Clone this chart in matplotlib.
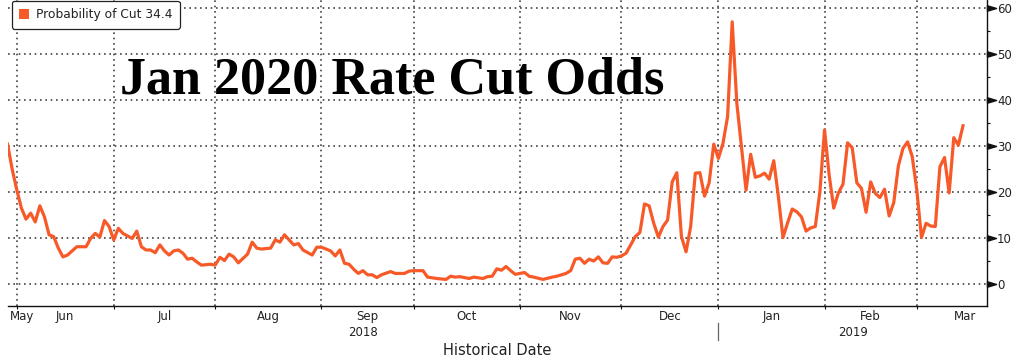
import numpy as np
import matplotlib
matplotlib.use('Agg')
import matplotlib.pyplot as plt
import matplotlib.transforms as mtransforms
from matplotlib.patches import Patch
from matplotlib.path import Path

# Jan 2020 rate cut probability (trading days)
dates = [
    '2018-05-30', '2018-05-31',
    '2018-06-01', '2018-06-04', '2018-06-05', '2018-06-06', '2018-06-07', '2018-06-08', '2018-06-11',
    '2018-06-12', '2018-06-13', '2018-06-14', '2018-06-15', '2018-06-18', '2018-06-20', '2018-06-22',
    '2018-06-25', '2018-06-26', '2018-06-27', '2018-06-28', '2018-06-29',
    '2018-07-02', '2018-07-03', '2018-07-04', '2018-07-06', '2018-07-09', '2018-07-10', '2018-07-11',
    '2018-07-12', '2018-07-13', '2018-07-16', '2018-07-17', '2018-07-18', '2018-07-19', '2018-07-20',
    '2018-07-23', '2018-07-24', '2018-07-25', '2018-07-26', '2018-07-27', '2018-07-31',
    '2018-08-01', '2018-08-02', '2018-08-03', '2018-08-06', '2018-08-07', '2018-08-08', '2018-08-10',
    '2018-08-13', '2018-08-14', '2018-08-15', '2018-08-17', '2018-08-20', '2018-08-21', '2018-08-22',
    '2018-08-23', '2018-08-24', '2018-08-27', '2018-08-28', '2018-08-30', '2018-08-31',
    '2018-09-03', '2018-09-05', '2018-09-06', '2018-09-07', '2018-09-10', '2018-09-11', '2018-09-12',
    '2018-09-13', '2018-09-14', '2018-09-17', '2018-09-18', '2018-09-19', '2018-09-20', '2018-09-24',
    '2018-09-25', '2018-09-27', '2018-09-28',
    '2018-10-01', '2018-10-03', '2018-10-04', '2018-10-08', '2018-10-10', '2018-10-11', '2018-10-12',
    '2018-10-15', '2018-10-17', '2018-10-18', '2018-10-22', '2018-10-23', '2018-10-24', '2018-10-25',
    '2018-10-26', '2018-10-29', '2018-10-30', '2018-10-31',
    '2018-11-02', '2018-11-05', '2018-11-06', '2018-11-08', '2018-11-12', '2018-11-13', '2018-11-15',
    '2018-11-16', '2018-11-19', '2018-11-20', '2018-11-21', '2018-11-22', '2018-11-23', '2018-11-26',
    '2018-11-27', '2018-11-28', '2018-11-29', '2018-11-30',
    '2018-12-03', '2018-12-04', '2018-12-05', '2018-12-06', '2018-12-07', '2018-12-10', '2018-12-11',
    '2018-12-12', '2018-12-13', '2018-12-14', '2018-12-17', '2018-12-18', '2018-12-19', '2018-12-20',
    '2018-12-21', '2018-12-24', '2018-12-25', '2018-12-26', '2018-12-27', '2018-12-28', '2018-12-31',
    '2019-01-01', '2019-01-02', '2019-01-03', '2019-01-04', '2019-01-07', '2019-01-09', '2019-01-10',
    '2019-01-11', '2019-01-14', '2019-01-15', '2019-01-16', '2019-01-17', '2019-01-18', '2019-01-21',
    '2019-01-22', '2019-01-23', '2019-01-24', '2019-01-25', '2019-01-28', '2019-01-29', '2019-01-30',
    '2019-01-31',
    '2019-02-01', '2019-02-04', '2019-02-05', '2019-02-06', '2019-02-07', '2019-02-08', '2019-02-11',
    '2019-02-12', '2019-02-13', '2019-02-14', '2019-02-15', '2019-02-18', '2019-02-19', '2019-02-20',
    '2019-02-21', '2019-02-22', '2019-02-25', '2019-02-26', '2019-02-27', '2019-02-28',
    '2019-03-01', '2019-03-04', '2019-03-05', '2019-03-06', '2019-03-07', '2019-03-08', '2019-03-11',
    '2019-03-12', '2019-03-13', '2019-03-14', '2019-03-15',
]
odds = [
    30.4, 25.0,
    20.5, 16.5, 14.1, 15.4, 13.5, 17.0, 14.6,
    10.7, 10.3, 7.8, 5.9, 6.3, 8.1, 8.1,
    9.9, 11.0, 10.2, 13.8, 12.5,
    9.6, 12.1, 11.0, 9.9, 11.5, 8.1, 7.4,
    7.4, 6.8, 8.5, 7.2, 6.3, 7.2, 7.4,
    6.7, 5.4, 5.6, 4.8, 4.1, 4.3,
    4.1, 5.8, 5.1, 6.5, 5.9, 4.6, 6.5,
    9.1, 7.8, 7.6, 7.8, 9.6, 9.1, 10.7,
    9.6, 8.5, 8.8, 7.4, 6.3, 8.0,
    8.0, 7.2, 6.1, 7.4, 4.5, 4.3, 3.2,
    2.3, 2.9, 2.0, 2.0, 1.4, 2.0, 2.7,
    2.3, 2.3, 2.8,
    2.9, 2.9, 1.5, 1.2, 1.0, 1.7, 1.5,
    1.6, 1.2, 1.5, 1.2, 1.6, 1.7, 3.3,
    3.0, 3.8, 2.9, 2.1,
    2.5, 1.7, 1.5, 1.0, 1.5, 1.7, 2.3,
    2.9, 5.4, 5.6, 4.5, 5.4, 5.0, 5.9,
    4.6, 4.5, 5.9, 5.8,
    6.1, 6.7, 8.5, 10.3, 11.2, 17.4, 17.0,
    13.2, 10.2, 12.5, 13.9, 22.2, 24.2, 10.3,
    7.0, 12.5, 24.1, 24.2, 19.1, 22.0, 30.4,
    27.3, 30.6, 36.4, 57.0, 39.3, 20.4, 28.2,
    23.2, 23.5, 24.1, 22.8, 26.8, 19.0, 10.1,
    13.3, 16.3, 15.7, 14.6, 11.5, 12.2, 12.5,
    20.1,
    33.5, 23.7, 16.5, 19.8, 21.7, 30.7, 29.6,
    22.0, 20.8, 15.6, 22.2, 19.7, 18.8, 20.6,
    14.8, 17.7, 25.7, 29.5, 30.9, 27.7,
    20.4, 10.1, 13.2, 12.6, 12.5, 25.5, 27.5,
    19.8, 31.8, 30.2, 34.4,
]
month_labels = ['Jun', 'Jul', 'Aug', 'Sep', 'Oct', 'Nov', 'Dec', 'Jan', 'Feb', 'Mar']
year_labels = ['2018', '2019']

start = '2018-05-30'
line_color = '#f75a28'
text_color = '#222222'

# x axis counts weekdays, like the Bloomberg terminal does
day = np.busday_count(start, np.array(dates, dtype='datetime64[D]'))
months = np.arange('2018-06', '2019-05', dtype='datetime64[M]')
month_first = np.busday_offset(months.astype('datetime64[D]'), 0, roll='forward')
month_pos = np.busday_count(start, month_first)
year_pos = np.busday_count(start, np.datetime64('2019-01-01'))

fig = plt.figure(figsize=(10.29, 3.6), dpi=100)
ax = fig.add_axes([8 / 1029, 54 / 360, 979 / 1029, 306 / 360])

ax.plot(day, odds, color=line_color, lw=2.3, solid_joinstyle='round', zorder=3)

x_left, x_right = 0.1, 212.2
ax.set_xlim(x_left, x_right)
ax.set_ylim(-4.78, 61.74)

# grid and ticks
ax.set_xticks(month_pos[:-1])
ax.set_yticks(range(0, 61, 10))
ax.set_yticks(range(5, 60, 10), minor=True)
ax.grid(True, which='major', color='#444444', linestyle=(0, (1, 2.2)), linewidth=1.2)

for s in ['top', 'left']:
    ax.spines[s].set_visible(False)
for s in ['right', 'bottom']:
    ax.spines[s].set_color('#111111')
    ax.spines[s].set_linewidth(1)

ax.yaxis.tick_right()
ax.tick_params(axis='y', which='major', length=0, pad=7.2, labelsize=8.5, labelcolor=text_color)
ax.tick_params(axis='y', which='minor', length=2.5, width=0.8, color='#111111', right=True, left=False)
ax.tick_params(axis='x', which='major', length=2.5, width=0.8, color='#111111', labelbottom=False)

# arrow-like major ticks on the right axis
tri = Path([(0, -0.3), (1, 0), (0, 0.3), (0, -0.3)],
           [Path.MOVETO, Path.LINETO, Path.LINETO, Path.CLOSEPOLY])
ytrans = mtransforms.blended_transform_factory(ax.transAxes, ax.transData)
yt = np.arange(0, 61, 10)
ax.plot(np.ones(len(yt)), yt, ls='none', marker=tri, ms=13, color='#111111',
        transform=ytrans, clip_on=False, zorder=5)

# month and year labels
xtrans = mtransforms.blended_transform_factory(ax.transData, ax.transAxes)
month_centers = (month_pos[:-1] + month_pos[1:]) / 2
ax.text(0.002, -0.033, 'May', transform=ax.transAxes, ha='left', va='center',
        fontsize=8.5, color=text_color)
for xc, lab in zip(month_centers, month_labels):
    ax.text(xc, -0.033, lab, transform=xtrans, ha='center', va='center',
            fontsize=8.5, color=text_color)
ax.text((x_left + year_pos) / 2, -0.085, year_labels[0], transform=xtrans,
        ha='center', va='center', fontsize=8.5, color=text_color)
ax.text((year_pos + x_right) / 2, -0.085, year_labels[1], transform=xtrans,
        ha='center', va='center', fontsize=8.5, color=text_color)
ax.plot([year_pos, year_pos], [-0.055, -0.11], color='#666666', lw=0.9,
        transform=xtrans, clip_on=False)

ax.text(0.5, -0.147, 'Historical Date', transform=ax.transAxes, ha='center', va='center',
        fontsize=10.5, color=text_color)

# title inside the plot
ax.text(0.1144, 0.696, 'Jan 2020 Rate Cut Odds', transform=ax.transAxes, ha='left',
        va='baseline', fontsize=37.5, fontweight='bold', family='Liberation Serif',
        color='black', zorder=4)

handle = Patch(facecolor=line_color, edgecolor='none')
leg = ax.legend([handle], [f'Probability of Cut {odds[-1]}'], loc='upper left',
                bbox_to_anchor=(0.004, 0.997), borderaxespad=0, fancybox=True,
                fontsize=8.8, handlelength=0.8, handleheight=0.8, handletextpad=0.55,
                borderpad=0.6, edgecolor='#222222', framealpha=1)
leg.get_frame().set_linewidth(0.9)
for t in leg.get_texts():
    t.set_color(text_color)

fig.savefig('out.png', dpi=100)
